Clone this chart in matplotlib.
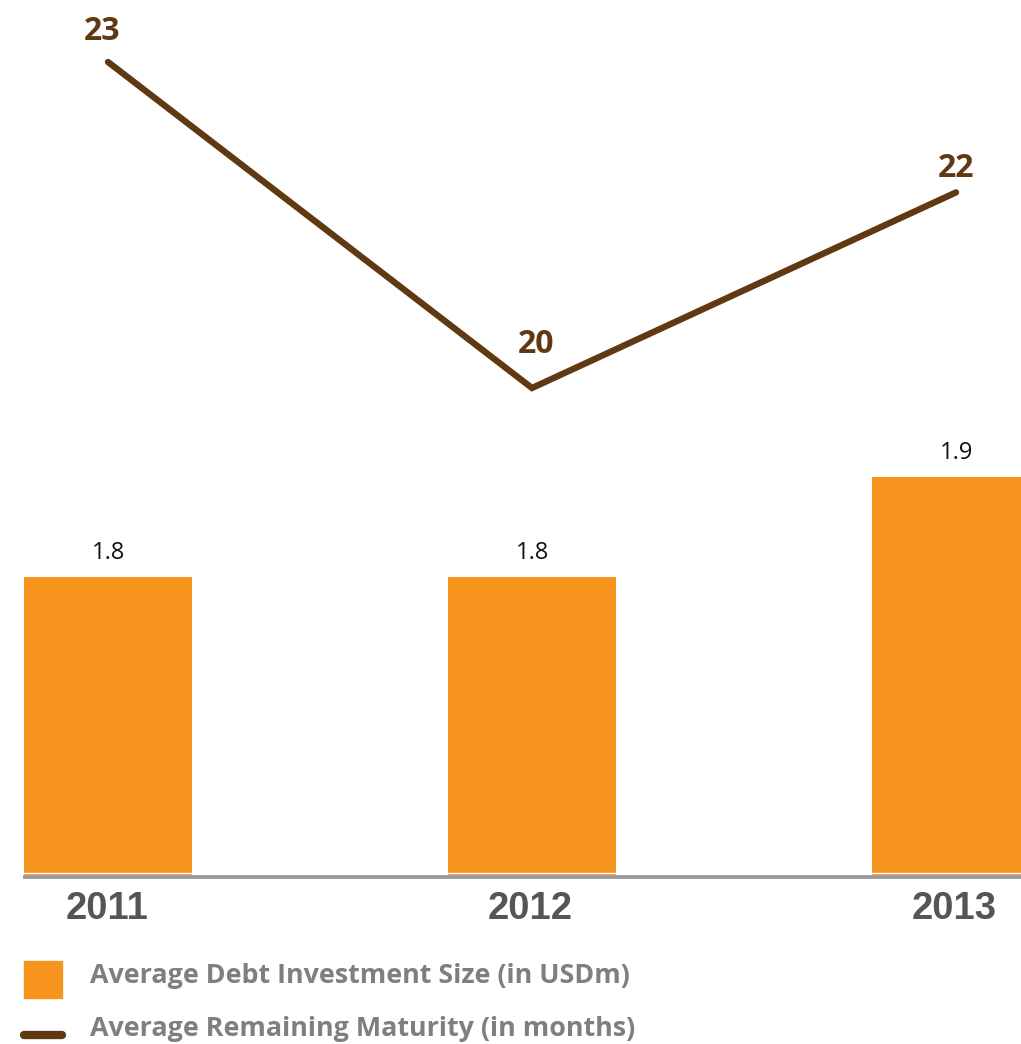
import matplotlib
matplotlib.use("Agg")
import matplotlib.pyplot as plt
from matplotlib.lines import Line2D
from matplotlib.patches import Rectangle

years = ["2011", "2012", "2013"]
debt_size = [1.8, 1.8, 1.9]          # Average Debt Investment Size (in USDm)
maturity = [23.0, 20.0, 21.8]        # Average Remaining Maturity (in months)
maturity_labels = ["23", "20", "22"]

BAR_COLOR = "#F7941E"
LINE_COLOR = "#603913"
GRAY = "#555555"

W, H = 1021, 1044
DPI = 100
fig = plt.figure(figsize=(W / DPI, H / DPI), dpi=DPI)

def px_axes(left, top, right, bottom):
    return fig.add_axes([left / W, 1 - bottom / H, (right - left) / W, (bottom - top) / H])

x = list(range(len(years)))
xlim = ((0 - 108) / 424, (W - 108) / 424)

# ---- bar axes ----
axb = px_axes(0, 427, W, 877)
axb.bar(x, [v - 1.5 for v in debt_size], bottom=1.5, width=0.397, color=BAR_COLOR)
axb.set_xlim(*xlim)
axb.set_ylim(1.5, 1.95)
axb.axis("off")
for xi, v in zip(x, debt_size):
    axb.annotate(f"{v:.1f}", (xi, v), xytext=(0, 17), textcoords="offset points",
                 ha="center", va="center", fontsize=17, color="#111111",
                 family="Open Sans")
# baseline
axb.add_line(Line2D([-0.2, 2.2], [1.5, 1.5], color="#9a9a9a",
                    lw=2.8, clip_on=False, solid_capstyle="butt", zorder=5))
axb.add_line(Line2D([-0.2, 2.2], [1.5 + 4 / 1000, 1.5 + 4 / 1000], color="white",
                    lw=1.0, clip_on=False, solid_capstyle="butt", zorder=4))
for xi, yr in zip(x, years):
    axb.annotate(yr, (xi, 1.5), xytext=(-1, -23), textcoords="offset points",
                 ha="center", va="center", fontsize=27.5, fontweight="bold",
                 color=GRAY, family="Liberation Sans")

# ---- line axes ----
axl = px_axes(0, 0, W, 420)
axl.plot(x, maturity, color=LINE_COLOR, lw=4.6, solid_capstyle="round",
         solid_joinstyle="miter")
axl.set_xlim(*xlim)
axl.set_ylim(20 - 32 / 108.67, 23 + 62 / 108.67)
axl.axis("off")
label_offsets = [(-4, 22), (3, 31), (0, 17)]
for xi, v, lab, off in zip(x, maturity, maturity_labels, label_offsets):
    axl.annotate(lab, (xi, v), xytext=off, textcoords="offset points",
                 ha="center", va="center", fontsize=23, fontweight="bold",
                 color=LINE_COLOR, family="Open Sans")

# ---- legend ----
fig.patches.append(Rectangle((24 / W, 1 - 998 / H), 38 / W, 37 / H,
                             transform=fig.transFigure, color=BAR_COLOR))
fig.lines.append(Line2D([24 / W, 62 / W], [1 - 1035 / H, 1 - 1035 / H],
                        transform=fig.transFigure, color=LINE_COLOR, lw=6,
                        solid_capstyle="round"))
fig.text(90 / W, 1 - 976 / H, "Average Debt Investment Size (in USDm)",
         fontsize=19.4, fontweight="bold", color="#7f7f7f",
         family="Open Sans", va="center", ha="left")
fig.text(90 / W, 1 - 1029 / H, "Average Remaining Maturity (in months)",
         fontsize=19.4, fontweight="bold", color="#7f7f7f",
         family="Open Sans", va="center", ha="left")

fig.savefig("out.png", dpi=DPI)
